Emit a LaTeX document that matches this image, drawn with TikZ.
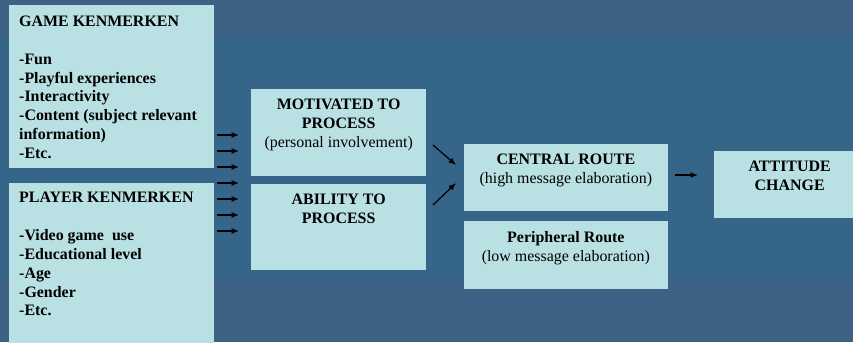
\documentclass[tikz,border=0pt]{standalone}
\usepackage{fontspec}
\setmainfont{Liberation Serif}
\usetikzlibrary{arrows.meta,calc}
\definecolor{bgband}{RGB}{62,97,134}
\definecolor{bgmid}{RGB}{53,102,138}
\definecolor{boxfill}{RGB}{185,224,227}
\tikzset{
  elm_box/.style = {fill=boxfill, inner sep=0pt, anchor=north west},
  elm_list/.style = {align=left, anchor=north west, inner sep=0pt,
    font=\fontsize{16}{19}\selectfont\bfseries},
  elm_txt/.style = {align=center, anchor=north, inner sep=0pt,
    font=\fontsize{16}{19}\selectfont\bfseries},% tekst in de vakken
  elm_arr/.style = {-{Latex[length=7.5bp,width=6bp]}, line width=1.2bp},
}

\begin{document}
\begin{tikzpicture}[x=1bp,y=-1bp]
\useasboundingbox (0,0) rectangle (853,342);
\clip (0,0) rectangle (853,342);
\fill[bgband] (0,0) rectangle (853,342);
\fill[bgmid] (0,38) rectangle (853,278);

% kenmerken
\node[elm_box, minimum width=205bp, minimum height=163bp] (game) at (9,5) {};
\node[elm_list] (gametxt) at ($(game.north west)+(10,7.8)$)
  {\strut GAME KENMERKEN\\[19pt]
   -Fun\\
   -Playful experiences\\
   -Interactivity\\
   -Content (subject relevant\\
   information)\\
   -Etc.};
\node[elm_box, minimum width=205bp, minimum height=170bp] (player) at (9,182.3) {};
\node[elm_list] (playertxt) at ($(player.north west)+(10,6.6)$)
  {\strut PLAYER KENMERKEN\\[19pt]
   -Video game\ \ use\\
   -Educational level\\
   -Age\\
   -Gender\\
   -Etc.};

% motivation en ability
\node[elm_box, minimum width=175bp, minimum height=86.7bp] (motiv) at (251,89) {};
\node[elm_txt] (motivtxt) at ($(motiv.north)+(0,6.7)$)
  {\strut MOTIVATED TO\\ PROCESS\\ \textmd{(personal involvement)}};
\node[elm_box, minimum width=175bp, minimum height=86.7bp] (ability) at (251,183.3) {};
\node[elm_txt] (abilitytxt) at ($(ability.north)+(0,7.4)$)
  {\strut ABILITY TO\\ PROCESS};

% routes
\node[elm_box, minimum width=204.7bp, minimum height=67.4bp] (central) at (463.3,143.3) {};
\node[elm_txt] (centraltxt) at ($(central.north)+(0,7.4)$)
  {\strut CENTRAL ROUTE\\ \textmd{(high message elaboration)}};
\node[elm_box, minimum width=204.7bp, minimum height=67.7bp] (periph) at (463.3,221) {};
\node[elm_txt] (periphtxt) at ($(periph.north)+(0,7.7)$)
  {\strut Peripheral Route\\ \textmd{(low message elaboration)}};

% attitude
\node[elm_box, minimum width=152.4bp, minimum height=67.4bp] (attitude) at (713.3,150.3) {};
\node[elm_txt] (attitudetxt) at ($(attitude.north)+(0,7.4)$)
  {\strut ATTITUDE\\ CHANGE};

% pijlen
\foreach \i in {0,...,6} {
  \coordinate (from\i) at (217,{135+16*\i});
  \coordinate (to\i) at (239,{135+16*\i});
  \draw[elm_arr] (from\i) -- (to\i);
}
\coordinate (motivout) at (433,145);
\coordinate (abilityout) at (433,205);
\coordinate (centralinA) at (456,165);
\coordinate (centralinB) at (456,183);
\draw[elm_arr] (motivout) -- (centralinA);
\draw[elm_arr] (abilityout) -- (centralinB);
\coordinate (centralout) at (675,175);
\coordinate (attitudein) at (698,175);
\draw[elm_arr] (centralout) -- (attitudein);
\end{tikzpicture}
\end{document}
